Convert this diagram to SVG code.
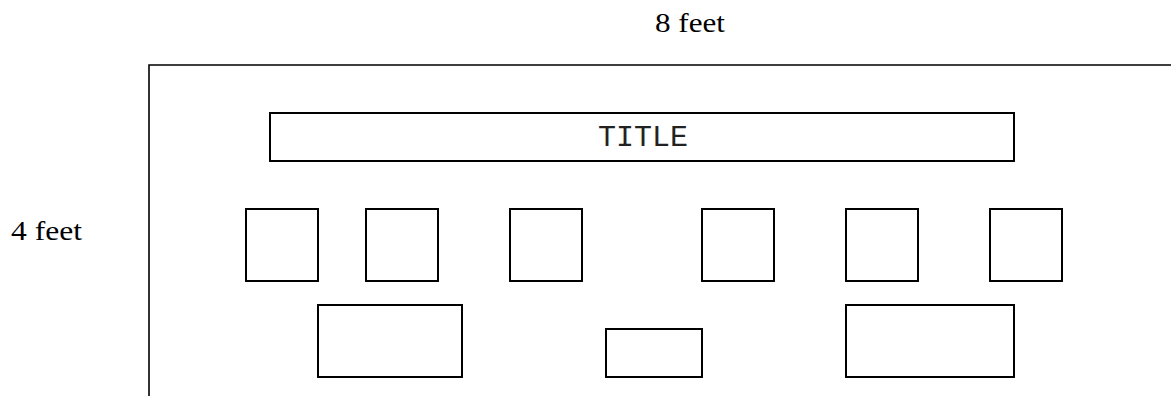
<svg xmlns="http://www.w3.org/2000/svg" width="1171" height="396" viewBox="0 0 1171 396">
<style>
.box{fill:none;stroke:#000;stroke-width:2}
.frame{fill:none;stroke:#000;stroke-width:1.6}
.lbl{font-family:"Liberation Serif","DejaVu Serif",serif;font-size:28px;fill:#000}
.mono{font-family:"Liberation Mono","DejaVu Sans Mono",monospace;font-size:30px;fill:#222}
</style>
<rect width="1171" height="396" fill="#fff"/>
<text class="lbl" x="655" y="32" textLength="70" lengthAdjust="spacingAndGlyphs">8 feet</text>
<text class="lbl" x="11" y="240" textLength="71" lengthAdjust="spacingAndGlyphs">4 feet</text>
<g id="board"><path class="frame" d="M149,400 V65 H1175"/></g>
<g id="title"><rect class="box" x="270" y="113" width="744" height="48"/><text class="mono" x="643" y="146" text-anchor="middle">TITLE</text></g>
<g id="sq1"><rect class="box" x="246" y="209" width="72" height="72"/></g>
<g id="sq2"><rect class="box" x="366" y="209" width="72" height="72"/></g>
<g id="sq3"><rect class="box" x="510" y="209" width="72" height="72"/></g>
<g id="sq4"><rect class="box" x="702" y="209" width="72" height="72"/></g>
<g id="sq5"><rect class="box" x="846" y="209" width="72" height="72"/></g>
<g id="sq6"><rect class="box" x="990" y="209" width="72" height="72"/></g>
<g id="rectL"><rect class="box" x="318" y="305" width="144" height="72"/></g>
<g id="rectM"><rect class="box" x="606" y="329" width="96" height="48"/></g>
<g id="rectR"><rect class="box" x="846" y="305" width="168" height="72"/></g>
<g id="connectors"></g>
</svg>
